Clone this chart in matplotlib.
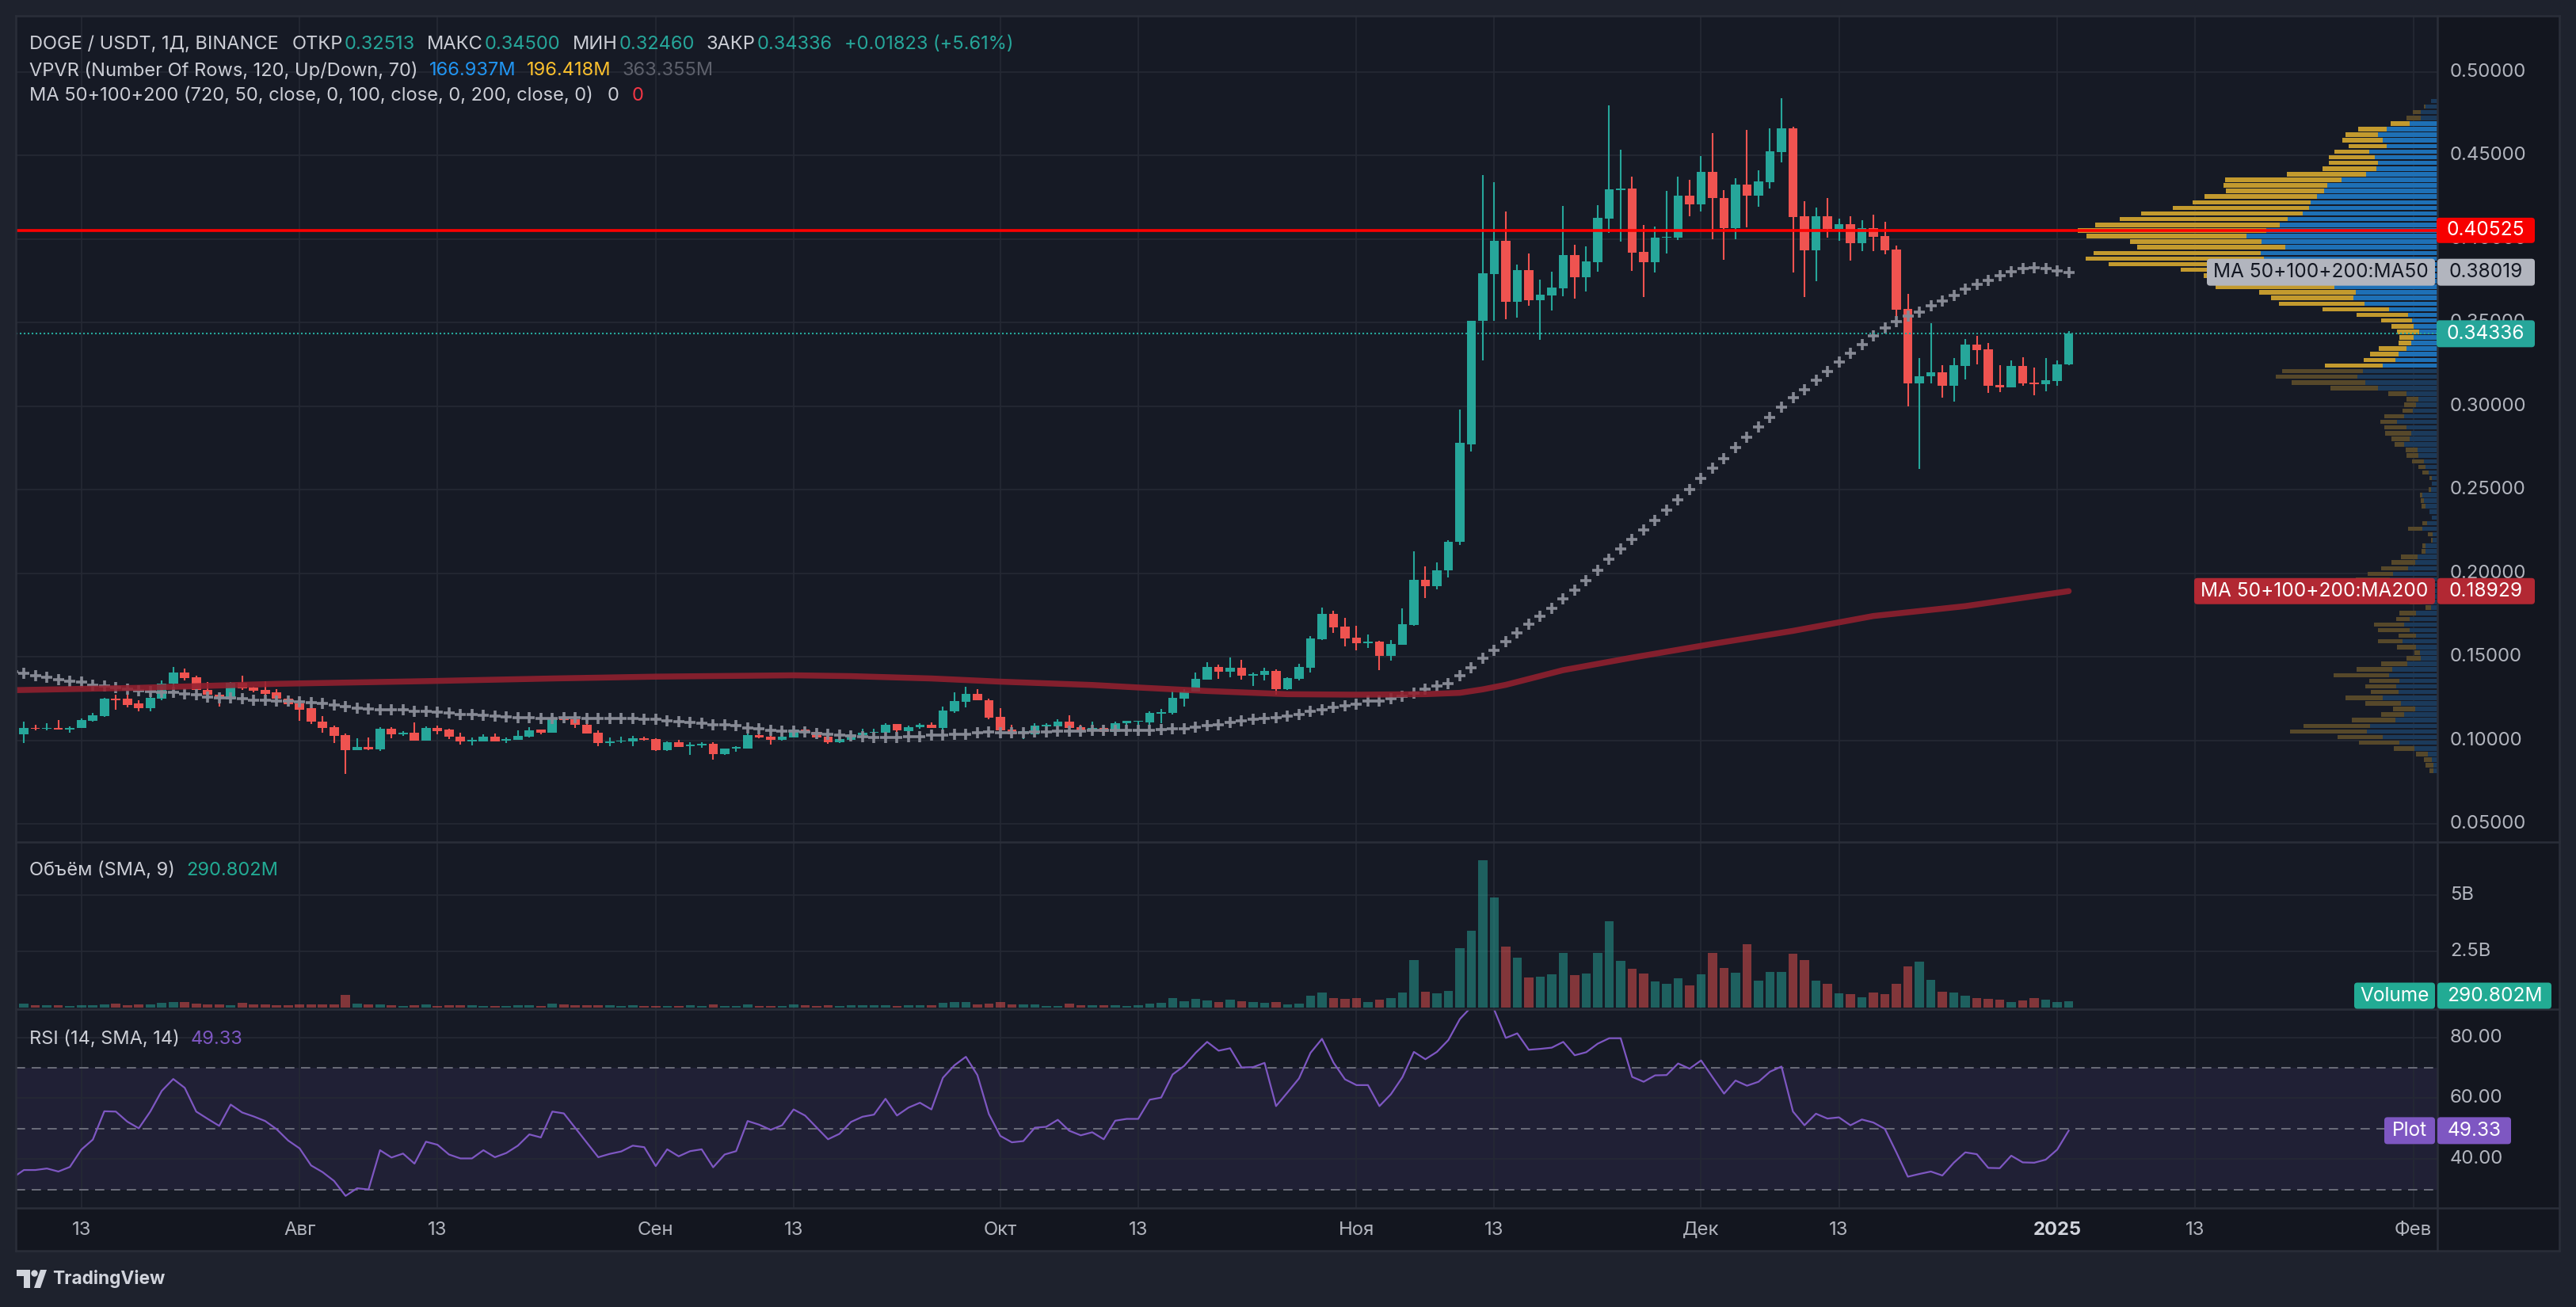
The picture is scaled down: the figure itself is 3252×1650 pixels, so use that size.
import numpy as np
import pandas as pd
import matplotlib
matplotlib.use("Agg")
import matplotlib.pyplot as plt
from matplotlib.patches import Rectangle, FancyBboxPatch, Circle, Polygon
from matplotlib.lines import Line2D
from matplotlib.transforms import Affine2D, blended_transform_factory

plt.rcParams['font.family'] = ['Inter', 'DejaVu Sans']

# ---------------------------------------------------------------- data
start_date = "2024-07-07"

opens = [0.1134, 0.1034, 0.1075, 0.1067, 0.1075, 0.1066, 0.1073, 0.1118, 0.1147, 0.1250, 0.1247, 0.1219, 0.1190,
         0.1247, 0.1338, 0.1405, 0.1376, 0.1301, 0.1274, 0.1245, 0.1343, 0.1314, 0.1301, 0.1285, 0.1250,
         0.1222, 0.1190, 0.1113, 0.1080, 0.1033, 0.0939, 0.0961, 0.0947, 0.1071, 0.1034, 0.1047, 0.1000, 0.1075,
         0.1063, 0.1023, 0.0993, 0.0994, 0.1023, 0.0996, 0.1005, 0.1023, 0.1063, 0.1047, 0.1134, 0.1126, 0.1094,
         0.1045, 0.0982, 0.0991, 0.0994, 0.1013,
         0.1009, 0.0942, 0.0990, 0.0963, 0.0970, 0.0980, 0.0918, 0.0950, 0.0951, 0.1032, 0.1023, 0.1004, 0.1018,
         0.1066, 0.1051, 0.1023, 0.0990, 0.1004, 0.1032, 0.1045, 0.1047, 0.1099, 0.1056, 0.1080, 0.1094, 0.1075,
         0.1175, 0.1228, 0.1280, 0.1242,
         0.1142, 0.1066, 0.1047, 0.1037, 0.1085, 0.1085, 0.1113, 0.1080, 0.1060, 0.1076, 0.1052, 0.1101, 0.1110,
         0.1109, 0.1161, 0.1166, 0.1251, 0.1291, 0.1365, 0.1441, 0.1412, 0.1436, 0.1389, 0.1393, 0.1417, 0.1308,
         0.1370, 0.1436, 0.1607, 0.1758, 0.1682,
         0.1616, 0.1583, 0.1592, 0.1507, 0.1573, 0.1692, 0.1962, 0.1924, 0.2018, 0.2187, 0.2773, 0.3509, 0.3792,
         0.3991, 0.3623, 0.3815, 0.3635, 0.3665, 0.3707, 0.3906, 0.3773, 0.3864, 0.4124, 0.4295, 0.4303, 0.3925,
         0.3864, 0.4010, 0.4010, 0.4261,
         0.4210, 0.4403, 0.4244, 0.4065, 0.4327, 0.4261, 0.4343, 0.4522, 0.4663, 0.4136, 0.3934, 0.4136, 0.4063,
         0.4090, 0.3977, 0.4065, 0.4019, 0.3938, 0.3582, 0.3138, 0.3179, 0.3203, 0.3120, 0.3242, 0.3369, 0.3340,
         0.3128, 0.3115, 0.3240, 0.3142, 0.3133,
         0.3150, 0.32513]

highs = [0.1140, 0.1114, 0.1095, 0.1102, 0.1123, 0.1082, 0.1130, 0.1166, 0.1252, 0.1274, 0.1274, 0.1238, 0.1258,
         0.1357, 0.1440, 0.1428, 0.1389, 0.1347, 0.1285, 0.1347, 0.1385, 0.1319, 0.1352, 0.1304, 0.1269,
         0.1226, 0.1190, 0.1147, 0.1090, 0.1042, 0.1013, 0.1018, 0.1077, 0.1077, 0.1056, 0.1109, 0.1085, 0.1090,
         0.1067, 0.1047, 0.1018, 0.1034, 0.1042, 0.1018, 0.1058, 0.1077, 0.1063, 0.1158, 0.1147, 0.1134, 0.1101,
         0.1061, 0.1018, 0.1023, 0.1028, 0.1023,
         0.1013, 0.0994, 0.1004, 0.0990, 0.0990, 0.0990, 0.0951, 0.0966, 0.1042, 0.1042, 0.1028, 0.1033, 0.1085,
         0.1075, 0.1061, 0.1033, 0.1023, 0.1056, 0.1071, 0.1071, 0.1104, 0.1099, 0.1090, 0.1104, 0.1109, 0.1204,
         0.1285, 0.1319, 0.1304, 0.1247,
         0.1190, 0.1094, 0.1071, 0.1104, 0.1101, 0.1128, 0.1152, 0.1094, 0.1114, 0.1087, 0.1114, 0.1118, 0.1118,
         0.1175, 0.1189, 0.1298, 0.1308, 0.1408, 0.1469, 0.1455, 0.1498, 0.1483, 0.1408, 0.1436, 0.1426, 0.1379,
         0.1460, 0.1626, 0.1796, 0.1777, 0.1735,
         0.1687, 0.1635, 0.1597, 0.1602, 0.1791, 0.2130, 0.2043, 0.2066, 0.2198, 0.2978, 0.3513, 0.4384, 0.4342,
         0.4166, 0.3849, 0.3914, 0.3758, 0.3807, 0.4200, 0.3967, 0.3957, 0.4204, 0.4800, 0.4536, 0.4373, 0.4086,
         0.4075, 0.4289, 0.4373, 0.4356,
         0.4498, 0.4635, 0.4293, 0.4365, 0.4654, 0.4411, 0.4663, 0.4844, 0.4673, 0.4227, 0.4187, 0.4246, 0.4122,
         0.4136, 0.4114, 0.4146, 0.4104, 0.3961, 0.3672, 0.3287, 0.3497, 0.3245, 0.3287, 0.3403, 0.3421, 0.3379,
         0.3245, 0.3274, 0.3293, 0.3232, 0.3287,
         0.3274, 0.34500]

lows = [0.1030, 0.0986, 0.1058, 0.1058, 0.1062, 0.1047, 0.1072, 0.1110, 0.1142, 0.1185, 0.1199, 0.1171, 0.1171,
        0.1242, 0.1252, 0.1357, 0.1280, 0.1261, 0.1201, 0.1242, 0.1301, 0.1285, 0.1274, 0.1230, 0.1203,
        0.1118, 0.1099, 0.1047, 0.0985, 0.0800, 0.0939, 0.0939, 0.0934, 0.1013, 0.1028, 0.1000, 0.1000, 0.1034,
        0.1009, 0.0975, 0.0970, 0.0994, 0.0994, 0.0985, 0.1005, 0.1018, 0.1037, 0.1047, 0.1105, 0.1075, 0.1042,
        0.0963, 0.0967, 0.0982, 0.0966, 0.1000,
        0.0937, 0.0937, 0.0961, 0.0913, 0.0955, 0.0885, 0.0913, 0.0932, 0.0951, 0.1013, 0.0975, 0.0999, 0.1018,
        0.1042, 0.1018, 0.0980, 0.0986, 0.0991, 0.1032, 0.1032, 0.1042, 0.1037, 0.1056, 0.1070, 0.1075, 0.1066,
        0.1166, 0.1199, 0.1238, 0.1128,
        0.1023, 0.1018, 0.1009, 0.1037, 0.1080, 0.1085, 0.1070, 0.1055, 0.1055, 0.1028, 0.1052, 0.1090, 0.1087,
        0.1090, 0.1101, 0.1156, 0.1204, 0.1291, 0.1365, 0.1370, 0.1379, 0.1365, 0.1327, 0.1360, 0.1275, 0.1303,
        0.1360, 0.1407, 0.1602, 0.1645, 0.1564,
        0.1540, 0.1554, 0.1422, 0.1479, 0.1573, 0.1687, 0.1853, 0.1905, 0.1976, 0.2170, 0.2728, 0.3272, 0.3513,
        0.3521, 0.3528, 0.3599, 0.3399, 0.3574, 0.3659, 0.3646, 0.3688, 0.3807, 0.4037, 0.3984, 0.3809, 0.3652,
        0.3802, 0.3912, 0.3997, 0.4139,
        0.4164, 0.4001, 0.3876, 0.4001, 0.4069, 0.4193, 0.4304, 0.4461, 0.3801, 0.3655, 0.3750, 0.4009, 0.3992,
        0.3873, 0.3926, 0.3926, 0.3911, 0.3509, 0.3001, 0.2624, 0.3138, 0.3049, 0.3028, 0.3162, 0.3252, 0.3081,
        0.3086, 0.3115, 0.3120, 0.3066, 0.3091,
        0.3120, 0.32460]

closes = [0.1034, 0.1075, 0.1067, 0.1075, 0.1063, 0.1075, 0.1123, 0.1152, 0.1247, 0.1241, 0.1209, 0.1190, 0.1252,
          0.1341, 0.1405, 0.1373, 0.1301, 0.1274, 0.1247, 0.1343, 0.1311, 0.1296, 0.1280, 0.1247, 0.1217,
          0.1185, 0.1110, 0.1075, 0.1028, 0.0939, 0.0961, 0.0947, 0.1071, 0.1034, 0.1047, 0.1000, 0.1075, 0.1056,
          0.1020, 0.0994, 0.1002, 0.1023, 0.0994, 0.1009, 0.1028, 0.1061, 0.1047, 0.1134, 0.1121, 0.1091, 0.1042,
          0.0982, 0.0994, 0.0999, 0.1013, 0.1004,
          0.0942, 0.0990, 0.0961, 0.0975, 0.0980, 0.0918, 0.0951, 0.0959, 0.1032, 0.1018, 0.1004, 0.1023, 0.1066,
          0.1047, 0.1018, 0.0990, 0.1009, 0.1037, 0.1047, 0.1051, 0.1094, 0.1058, 0.1080, 0.1094, 0.1075, 0.1180,
          0.1233, 0.1280, 0.1238, 0.1137,
          0.1061, 0.1037, 0.1056, 0.1090, 0.1094, 0.1113, 0.1075, 0.1058, 0.1076, 0.1052, 0.1104, 0.1115, 0.1116,
          0.1166, 0.1170, 0.1256, 0.1294, 0.1370, 0.1441, 0.1412, 0.1436, 0.1389, 0.1398, 0.1417, 0.1308, 0.1374,
          0.1441, 0.1611, 0.1758, 0.1678, 0.1611,
          0.1583, 0.1592, 0.1507, 0.1578, 0.1697, 0.1962, 0.1924, 0.2019, 0.2187, 0.2779, 0.3513, 0.3796, 0.3991,
          0.3623, 0.3815, 0.3635, 0.3669, 0.3711, 0.3906, 0.3773, 0.3868, 0.4128, 0.4299, 0.4303, 0.3921, 0.3864,
          0.4010, 0.4016, 0.4261, 0.4210,
          0.4403, 0.4244, 0.4065, 0.4327, 0.4261, 0.4346, 0.4525, 0.4663, 0.4133, 0.3934, 0.4136, 0.4063, 0.4090,
          0.3977, 0.4065, 0.4016, 0.3934, 0.3579, 0.3138, 0.3179, 0.3203, 0.3120, 0.3245, 0.3369, 0.3337, 0.3123,
          0.3115, 0.3240, 0.3137, 0.3133, 0.3155,
          0.32513, 0.34336]

volumes_m = [93, 163, 93, 93, 93, 58, 93, 93, 128, 163, 93, 128, 128, 198, 233, 233, 163, 128, 128, 93, 198, 128,
             128, 93, 93,
             128, 128, 128, 128, 547, 163, 128, 128, 93, 58, 93, 128, 58, 93, 93, 93, 58, 58, 58, 93, 93, 58, 163,
             128, 93, 93, 93, 93, 58, 93, 58,
             58, 58, 58, 93, 58, 128, 58, 58, 128, 58, 58, 58, 128, 93, 58, 93, 58, 93, 93, 93, 93, 58, 93, 93, 93,
             198, 233, 233, 128, 163,
             233, 128, 128, 128, 58, 58, 163, 93, 93, 93, 93, 58, 93, 163, 198, 407, 267, 372, 302, 233, 337, 267,
             233, 198, 233, 128, 163, 512, 686, 407, 372,
             407, 233, 337, 407, 686, 2117, 721, 651, 756, 2640, 3408, 6548, 4908, 2710, 2221, 1349, 1384, 1489,
             2431, 1454, 1524, 2431, 3826, 2082, 1733, 1524, 1175, 1070, 1314, 1000,
             1489, 2431, 1768, 1558, 2814, 1210, 1593, 1593, 2396, 2117, 1210, 1070, 651, 582, 442, 686, 616, 1070,
             1838, 2047, 1244, 721, 686, 512, 407, 372, 337, 233, 302, 407, 337,
             233, 291]

ma50 = [0.1412, 0.1401, 0.1389, 0.1376, 0.1361, 0.1352, 0.1347, 0.1330, 0.1325, 0.1317, 0.1306, 0.1295, 0.1290,
        0.1285, 0.1285, 0.1277, 0.1272, 0.1261, 0.1256, 0.1253, 0.1248, 0.1242, 0.1242, 0.1237, 0.1237,
        0.1232, 0.1224, 0.1220, 0.1210, 0.1201, 0.1194, 0.1189, 0.1185, 0.1182, 0.1182, 0.1175, 0.1172, 0.1169,
        0.1166, 0.1156, 0.1153, 0.1150, 0.1145, 0.1142, 0.1137, 0.1134, 0.1129, 0.1132, 0.1134, 0.1134, 0.1132,
        0.1129, 0.1129, 0.1129, 0.1129, 0.1124,
        0.1124, 0.1118, 0.1111, 0.1108, 0.1102, 0.1094, 0.1091, 0.1086, 0.1076, 0.1070, 0.1061, 0.1057, 0.1053,
        0.1048, 0.1041, 0.1035, 0.1032, 0.1025, 0.1022, 0.1019, 0.1018, 0.1018, 0.1022, 0.1022, 0.1029, 0.1033,
        0.1037, 0.1038, 0.1045, 0.1048,
        0.1045, 0.1045, 0.1045, 0.1049, 0.1049, 0.1054, 0.1054, 0.1057, 0.1058, 0.1058, 0.1058, 0.1058, 0.1058,
        0.1058, 0.1063, 0.1068, 0.1071, 0.1080, 0.1087, 0.1095, 0.1106, 0.1115, 0.1125, 0.1129, 0.1137, 0.1147,
        0.1156, 0.1171, 0.1185, 0.1197, 0.1208,
        0.1218, 0.1234, 0.1237, 0.1251, 0.1265, 0.1284, 0.1305, 0.1324, 0.1341, 0.1385, 0.1435, 0.1490, 0.1540,
        0.1590, 0.1645, 0.1695, 0.1743, 0.1792, 0.1847, 0.1900, 0.1955, 0.2016, 0.2084, 0.2145, 0.2202, 0.2259,
        0.2316, 0.2378, 0.2439, 0.2500,
        0.2566, 0.2627, 0.2688, 0.2752, 0.2813, 0.2874, 0.2934, 0.2996, 0.3052, 0.3099, 0.3157, 0.3208, 0.3265,
        0.3318, 0.3370, 0.3423, 0.3470, 0.3508, 0.3538, 0.3565, 0.3599, 0.3631, 0.3663, 0.3702, 0.3731, 0.3755,
        0.3779, 0.3806, 0.3826, 0.3831, 0.3826,
        0.3811, 0.38019]

ma200_dates = ["2024-07-07", "2024-07-18", "2024-07-30", "2024-08-12", "2024-08-23", "2024-09-01", "2024-09-13",
               "2024-09-18", "2024-09-25", "2024-10-01", "2024-10-09", "2024-10-13", "2024-10-19", "2024-10-26",
               "2024-11-01", "2024-11-07", "2024-11-10", "2024-11-12", "2024-11-14", "2024-11-19", "2024-11-25",
               "2024-12-02", "2024-12-09", "2024-12-16", "2024-12-24", "2025-01-02"]
ma200_vals = [0.1300, 0.1314, 0.1338, 0.1354, 0.1370, 0.1381, 0.1389, 0.1384, 0.1370, 0.1351, 0.1331, 0.1316,
              0.1295, 0.1276, 0.1273, 0.1276, 0.1284, 0.1305, 0.1332, 0.1420, 0.1495, 0.1577, 0.1655, 0.1744,
              0.1803, 0.18929]

rsi = [33.8, 36.4, 36.4, 36.9, 35.9, 37.4, 43.1, 46.4, 55.7, 55.6, 52.3, 50.1, 55.6, 62.4, 66.3, 63.4, 55.6, 53.2,
       50.9, 57.9, 55.3, 54.0, 52.5, 49.8, 46.1,
       43.5, 37.9, 35.7, 32.8, 27.9, 30.4, 30.0, 42.9, 40.5, 41.8, 38.5, 45.7, 44.7, 41.5, 40.2, 40.2, 42.9, 40.6,
       42.0, 44.4, 48.1, 47.1, 55.6, 55.0, 50.2, 45.4, 40.6, 41.7, 42.5, 44.4, 43.9,
       37.7, 43.2, 40.9, 42.6, 43.2, 37.3, 41.5, 42.6, 52.5, 51.3, 49.6, 51.1, 56.3, 54.3, 50.4, 46.5, 48.3, 52.2,
       53.9, 54.6, 59.8, 54.3, 56.9, 58.5, 56.3, 66.7, 70.8, 73.6, 67.6, 54.8,
       47.6, 45.5, 45.9, 50.3, 50.6, 52.9, 49.3, 47.8, 48.8, 46.5, 52.6, 53.2, 53.2, 59.5, 60.2, 67.8, 70.6, 74.9,
       78.5, 75.6, 76.4, 70.1, 70.2, 71.6, 57.4, 61.9, 66.5, 74.9, 79.5, 71.7, 66.2,
       64.3, 64.3, 57.4, 61.3, 66.9, 75.2, 72.8, 75.2, 79.1, 86.0, 90.0, 92.0, 89.0, 79.8, 81.3, 75.9, 76.2, 76.6,
       78.5, 74.1, 75.1, 77.9, 79.7, 79.7, 67.0, 65.4, 67.5, 67.6, 71.4, 69.7,
       72.4, 66.9, 61.5, 65.8, 64.1, 65.4, 68.7, 70.4, 55.6, 51.1, 54.9, 53.3, 53.7, 51.1, 53.0, 52.0, 49.9, 42.2,
       34.2, 35.1, 35.9, 34.6, 38.8, 42.2, 41.6, 37.1, 37.0, 41.1, 38.9, 38.8, 39.8,
       43.1, 49.33]

# VPVR: 120 rows from the top (high) to the bottom (low) of the visible range
vp_high, vp_low = 0.4844, 0.0800
vp_up = [20, 35, 50, 50, 85, 155, 180, 167, 155, 208, 190, 180, 185, 217, 292, 335, 345, 367, 385, 390,
         409, 455, 480, 519, 580, 535, 462, 538, 527, 505, 445, 405, 345, 313, 248, 255, 222, 147, 90, 78,
         72, 55, 72, 80, 95, 117, 128, 165, 227, 243, 219, 180, 95, 57, 65, 75, 101, 123, 95, 79,
         85, 100, 60, 57, 40, 35, 27, 17, 17, 20, 45, 40, 37, 25, 17, 32, 45, 15, 15, 35,
         35, 60, 67, 90, 135, 145, 105, 85, 60, 45, 20, 65, 85, 100, 85, 65, 105, 65, 52, 50,
         92, 137, 147, 115, 125, 117, 165, 110, 67, 100, 127, 205, 215, 165, 115, 70, 30, 17, 12, 12]
vp_down = [0, 7, 25, 45, 57, 86, 99, 123, 115, 105, 140, 150, 164, 240, 353, 315, 297, 340, 358, 414,
           491, 510, 559, 574, 486, 398, 450, 508, 543, 493, 334, 305, 350, 362, 293, 250, 259, 202, 156, 94,
           68, 68, 43, 38, 82, 88, 97, 177, 245, 248, 224, 145, 54, 38, 35, 32, 60, 50, 66, 81,
           55, 30, 37, 38, 37, 22, 18, 6, 0, 7, 8, 11, 10, 0, 0, 13, 44, 15, 5, 10,
           12, 51, 73, 80, 78, 104, 80, 60, 45, 40, 17, 50, 40, 92, 95, 52, 75, 58, 18, 45,
           79, 108, 168, 92, 95, 85, 114, 109, 68, 70, 133, 202, 233, 138, 124, 63, 35, 23, 23, 13]
vp_va_first, vp_va_last = 4, 47

hline_price = 0.40525

tick_dates = ["2024-07-13", "2024-08-01", "2024-08-13", "2024-09-01", "2024-09-13", "2024-10-01", "2024-10-13",
              "2024-11-01", "2024-11-13", "2024-12-01", "2024-12-13", "2025-01-01", "2025-01-13", "2025-02-01"]
tick_labels = ["13", "Авг", "13", "Сен", "13", "Окт", "13", "Ноя", "13", "Дек", "13", "2025", "13", "Фев"]
price_ticks = [0.05, 0.10, 0.15, 0.20, 0.25, 0.30, 0.35, 0.40, 0.45, 0.50]
vol_ticks = [2500, 5000]
vol_tick_labels = ["2.5B", "5B"]
rsi_ticks = [40, 60, 80]

# ---------------------------------------------------------------- layout
W, H, DPI = 3252, 1650, 200
L, R, AXR = 20, 3077, 3231
TOP, MAIN_B, VOL_B, RSI_B, TIME_B = 20, 1063, 1274, 1525, 1579
X0_PX, PX_DAY = 15.69, 14.502          # pixel of first candle, pixels per day

BG_OUT = "#1e222d"
BG = "#161a25"
BG_AX = "#13161f"
GRID = "#252934"
SEP = "#2a2e39"
TXT = "#b2b5be"
LEG = "#ccced6"
UP, DN = "#26a69a", "#ef5350"
FS = 8.6        # axis labels
FSL = 8.5       # legend texts
FSB = 8.8       # label boxes

fig = plt.figure(figsize=(W / DPI, H / DPI), dpi=DPI)
fig.patch.set_facecolor(BG_OUT)
T = Affine2D().scale(1, -1).translate(0, H)   # pixel coords measured from the top-left


def add_rect(x0, y0, x1, y1, color, z=-5):
    fig.add_artist(Rectangle((x0, y0), x1 - x0, y1 - y0, transform=T, fc=color, ec="none", zorder=z))


def add_line(x0, y0, x1, y1, color=SEP, lw=0.9, z=2):
    fig.add_artist(Line2D([x0, x1], [y0, y1], transform=T, color=color, lw=lw, zorder=z))


add_rect(L, TOP, AXR, TIME_B, BG)
add_rect(R, TOP, AXR, RSI_B, BG_AX)
add_rect(L, RSI_B, AXR, TIME_B, BG_AX)


def add_pane(y0, y1):
    a = fig.add_axes([L / W, 1 - y1 / H, (R - L) / W, (y1 - y0) / H])
    a.set_facecolor(BG)
    for s in a.spines.values():
        s.set_visible(False)
    a.set_xticks([])
    a.set_yticks([])
    return a


ax = add_pane(TOP, MAIN_B)
axv = add_pane(MAIN_B, VOL_B)
axr = add_pane(VOL_B, RSI_B)

xlim = ((L - X0_PX) / PX_DAY, (R - X0_PX) / PX_DAY)
PPX = 0.45 / 949.0
ylim_main = (0.5 - (MAIN_B - 91.0) * PPX, 0.5 + (91.0 - TOP) * PPX)
for a in (ax, axv, axr):
    a.set_xlim(*xlim)
ax.set_ylim(*ylim_main)
axv.set_ylim(-2 * 2500 / 71.0, (1272 - MAIN_B) * 2500 / 71.0)
axr.set_ylim(50 - (RSI_B - 1424.8) / 3.842, 50 + (1424.8 - VOL_B) / 3.842)


def day_index(d):
    return (pd.Timestamp(d) - pd.Timestamp(start_date)).days


dates = pd.date_range(start_date, periods=len(opens), freq="D")
x = np.arange(len(dates))
o, h, l, c = map(np.array, (opens, highs, lows, closes))
up = c >= o
cols = np.where(up, UP, DN)

# grid
tick_x = [day_index(d) for d in tick_dates]
for a in (ax, axv, axr):
    for tx in tick_x:
        a.axvline(tx, color=GRID, lw=0.6, zorder=0.5)
for p in price_ticks:
    ax.axhline(p, color=GRID, lw=0.6, zorder=0.5)
for v in vol_ticks:
    axv.axhline(v, color=GRID, lw=0.6, zorder=0.5)
for r in rsi_ticks:
    axr.axhline(r, color=GRID, lw=0.6, zorder=0.5)

# candles
ax.vlines(x, l, h, colors=cols, lw=0.75, zorder=3)
ax.bar(x, np.maximum(np.abs(c - o), 0.0006), bottom=np.minimum(o, c), width=0.8, color=cols, lw=0, zorder=3)
# MA50 crosses and MA200 line
ax.plot(x, ma50, ls="none", marker="+", ms=4.8, mew=1.3, color="#868994", zorder=4)
ax.plot([day_index(d) for d in ma200_dates], ma200_vals, color="#93202f", lw=2.7, alpha=0.88, zorder=5,
        solid_capstyle="round", solid_joinstyle="round")

# VPVR overlay
axp = ax.twiny()
axp.axis("off")
vp_up_a, vp_dn_a = np.array(vp_up, float), np.array(vp_down, float)
vp_tot = vp_up_a + vp_dn_a
axp.set_xlim(vp_tot.max() * (R - L) / 454.0, 0)
nrow = len(vp_up)
rh = (vp_high - vp_low) / nrow
yc = vp_high - (np.arange(nrow) + 0.5) * rh
inva = (np.arange(nrow) >= vp_va_first) & (np.arange(nrow) <= vp_va_last)
ucol = np.where(inva, "#1e70b6", "#1b3a5b")
dcol = np.where(inva, "#c39a2e", "#56482a")
axp.barh(yc, vp_up_a, left=0, height=rh * 0.78, color=ucol, lw=0, zorder=2)
axp.barh(yc, vp_dn_a, left=vp_up_a, height=rh * 0.78, color=dcol, lw=0, zorder=2)
axp.axhline(hline_price, color="#ff0000", lw=1.3, zorder=6)
axp.axhline(closes[-1], color=UP, lw=0.75, ls=(0, (1, 1.4)), zorder=6)
axp.set_ylim(*ylim_main)

# volume
vcols = np.where(up, "#26a69a80", "#ef535080")
axv.bar(x, volumes_m, width=0.8, color=vcols, lw=0, zorder=2)

# RSI
axr.axhspan(30, 70, color="#7e57c2", alpha=0.1, lw=0, zorder=0.3)
for lv in (30, 50, 70):
    axr.axhline(lv, color="#787b86", lw=0.6, ls=(0, (7, 5)), zorder=1)
axr.plot(x, rsi, color="#7e57c2", lw=0.8, zorder=3)

# frame and separators
add_line(L, TOP, AXR, TOP)
add_line(L, TIME_B, AXR, TIME_B)
add_line(L, TOP, L, TIME_B)
add_line(AXR, TOP, AXR, TIME_B)
add_line(R, TOP, R, TIME_B)
add_line(L, MAIN_B, AXR, MAIN_B)
add_line(L, VOL_B, AXR, VOL_B)
add_line(L, RSI_B, AXR, RSI_B)

# axis labels
XL = 3093
bt_main = blended_transform_factory(T, ax.transData)
for p in price_ticks:
    fig.text(XL, p, f"{p:.5f}", transform=bt_main, color=TXT, fontsize=FS, va="center", ha="left", zorder=3)
bt_vol = blended_transform_factory(T, axv.transData)
for v, s in zip(vol_ticks, vol_tick_labels):
    fig.text(XL, v, s, transform=bt_vol, color=TXT, fontsize=FS, va="center", ha="left", zorder=3)
bt_rsi = blended_transform_factory(T, axr.transData)
for r in rsi_ticks:
    fig.text(XL, r, f"{r:.2f}", transform=bt_rsi, color=TXT, fontsize=FS, va="center", ha="left", zorder=3)
bt_time = blended_transform_factory(ax.transData, T)
for tx, s in zip(tick_x, tick_labels):
    bold = s == "2025"
    fig.text(tx, 1553, s, transform=bt_time, color="#d1d4dc" if bold else TXT, fontsize=FS,
             fontweight="bold" if bold else "normal", va="center", ha="center", zorder=3)


def ypx(a, v):
    return H - a.transData.transform((0, v))[1]


def box(x0, x1, ycen, hh, fc, text, tc, z=8):
    fig.add_artist(FancyBboxPatch((x0, ycen - hh / 2), x1 - x0, hh, boxstyle="round,pad=0,rounding_size=4",
                                  transform=T, fc=fc, ec="none", zorder=z))
    fig.text((x0 + x1) / 2, ycen, text, transform=T, color=tc, fontsize=FSB, ha="center", va="center",
             zorder=z + 1)


y_red = ypx(ax, hline_price)
box(3076, 3200, y_red, 32, "#f70000", f"{hline_price:.5f}", "white")
y50 = ypx(ax, ma50[-1])
box(2786, 3074, y50, 34, "#b2b5be", "MA 50+100+200:MA50", "#131722")
box(3077, 3200, y50, 34, "#b2b5be", f"{ma50[-1]:.5f}", "#131722")
y_last = ypx(ax, closes[-1])
box(3076, 3200, y_last, 34, UP, f"{closes[-1]:.5f}", "white")
y200 = ypx(ax, ma200_vals[-1])
box(2770, 3074, y200, 33, "#b22833", "MA 50+100+200:MA200", "white")
box(3077, 3200, y200, 33, "#b22833", f"{ma200_vals[-1]:.5f}", "white")
box(2972, 3074, 1257, 33, "#22ab94", "Volume", "white")
box(3077, 3221, 1257, 33, "#22ab94", "290.802M", "white")
y_rsi = ypx(axr, rsi[-1])
box(3010, 3074, y_rsi, 34, "#7e57c2", "Plot", "white")
box(3077, 3170, y_rsi, 34, "#7e57c2", f"{rsi[-1]:.2f}", "white")

# legends
renderer = fig.canvas.get_renderer()


def seq_text(x0, y, parts):
    xx = x0
    for s, col, gap in parts:
        t = fig.text(xx, y, s, transform=T, color=col, fontsize=FSL, va="center", ha="left", zorder=6)
        bb = t.get_window_extent(renderer=renderer)
        xx = bb.x1 + gap


chg = closes[-1] - closes[-2]
pct = chg / closes[-2] * 100
seq_text(37, 56, [("DOGE / USDT, 1Д, BINANCE", LEG, 17), ("ОТКР", LEG, 2), (f"{opens[-1]:.5f}", UP, 15),
                  ("МАКС", LEG, 2), (f"{highs[-1]:.5f}", UP, 15), ("МИН", LEG, 2), (f"{lows[-1]:.5f}", UP, 15),
                  ("ЗАКР", LEG, 2), (f"{closes[-1]:.5f}", UP, 15), (f"+{chg:.5f} (+{pct:.2f}%)", UP, 0)])
seq_text(37, 89, [("VPVR (Number Of Rows, 120, Up/Down, 70)", LEG, 14), ("166.937M", "#2196f3", 14),
                  ("196.418M", "#fbc02d", 14), ("363.355M", "#5d606b", 0)])
seq_text(37, 121, [("MA 50+100+200 (720, 50, close, 0, 100, close, 0, 200, close, 0)", LEG, 18),
                   ("0", LEG, 16), ("0", "#f23645", 0)])
seq_text(37, 1099, [("Объём (SMA, 9)", LEG, 14), ("290.802M", "#22ab94", 0)])
seq_text(37, 1312, [("RSI (14, SMA, 14)", LEG, 14), (f"{rsi[-1]:.2f}", "#7e57c2", 0)])

# TradingView logo
LOGO = "#d1d4dc"
fig.add_artist(Polygon([(21, 1603), (38, 1603), (38, 1626), (30, 1626), (30, 1611), (21, 1611)], closed=True,
                       transform=T, fc=LOGO, ec="none", zorder=6))
fig.add_artist(Circle((43.5, 1607.5), 4.2, transform=T, fc=LOGO, ec="none", zorder=6))
fig.add_artist(Polygon([(43, 1626), (51, 1603), (59, 1603), (51, 1626)], closed=True, transform=T, fc=LOGO,
                       ec="none", zorder=6))
fig.text(66, 1614, "TradingView", transform=T, color=LOGO, fontsize=8.2, fontweight="bold", va="center",
         ha="left", zorder=6)

fig.savefig("out.png", dpi=DPI, facecolor=fig.get_facecolor())
